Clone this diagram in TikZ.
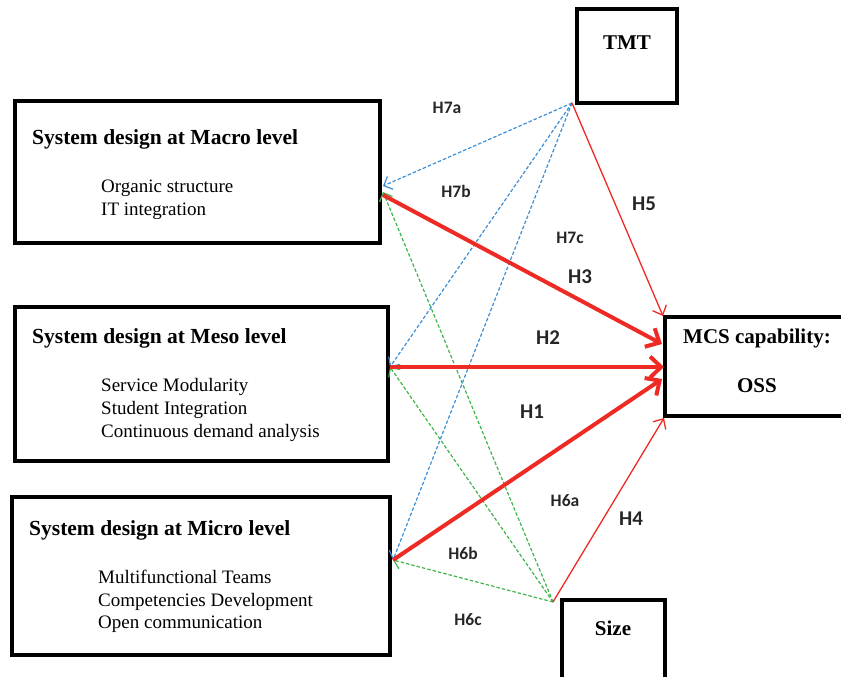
\documentclass[tikz,border=0pt]{standalone}
\usepackage{fontspec}
\setmainfont{Liberation Serif}
\newfontfamily\labfont{Carlito}
\usetikzlibrary{arrows.meta}
\definecolor{cblue}{HTML}{3A8FD8}
\definecolor{cgreen}{HTML}{3DB54A}
\definecolor{cred}{HTML}{EE2A24}
\begin{document}
\begin{tikzpicture}[x=1pt,y=-1pt,
  box/.style={draw=black,line width=4pt,inner sep=0pt,rectangle},
  ttl/.style={anchor=base west,font=\fontsize{21.5}{21.5}\selectfont\bfseries,inner sep=0pt},
  itm/.style={anchor=base west,font=\fontsize{19}{19}\selectfont,inner sep=0pt},
  ctr/.style={anchor=base,font=\fontsize{21}{21}\selectfont\bfseries,inner sep=0pt},
  slab/.style={font=\labfont\fontsize{17.5}{17.5}\selectfont\bfseries,text=black!85,inner sep=0pt},
  blab/.style={font=\labfont\fontsize{21}{21}\selectfont\bfseries,text=black!85,inner sep=0pt},
  bluearr/.style={draw=cblue,line width=1.2pt,dash pattern=on 3.5pt off 2pt,-{Straight Barb[length=7pt,width=14pt,line width=1.2pt]}},
  greenarr/.style={draw=cgreen,line width=1.2pt,dash pattern=on 3.5pt off 2pt,-{Straight Barb[length=7pt,width=14pt,line width=1.2pt]}},
  thinred/.style={draw=cred,line width=1.3pt,-{Straight Barb[length=8pt,width=15pt,line width=1.3pt]}},
  thickred/.style={draw=cred,line width=4pt,-{Straight Barb[length=11pt,width=21pt,line width=4pt]}}]
\useasboundingbox (0,0) rectangle (841,677);
\clip (0,0) rectangle (841,677);
% boxes
\node[box,minimum width=365pt,minimum height=142pt] (macro) at (197.5,172) {};
\node[box,minimum width=373pt,minimum height=154pt] (meso) at (201.5,384) {};
\node[box,minimum width=378pt,minimum height=158pt] (micro) at (201,576) {};
\node[box,minimum width=100pt,minimum height=94pt] (tmt) at (627,56) {};
\node[box,minimum width=190pt,minimum height=99pt] (mcs) at (760,366.5) {};
\node[box,minimum width=103pt,minimum height=90pt] (size) at (613.5,645) {};
% texts
\node[ttl] (t1) at (32,144) {System design at Macro level};
\node[itm] (i1a) at (101,192) {Organic structure};
\node[itm] (i1b) at (101,215) {IT integration};
\node[ttl] (t2) at (32,343) {System design at Meso level};
\node[itm] (i2a) at (101,391) {Service Modularity};
\node[itm] (i2b) at (101,414) {Student Integration};
\node[itm] (i2c) at (101,437) {Continuous demand analysis};
\node[ttl] (t3) at (29,535) {System design at Micro level};
\node[itm] (i3a) at (98,583) {Multifunctional Teams};
\node[itm] (i3b) at (98,606) {Competencies Development};
\node[itm] (i3c) at (98,628) {Open communication};
\node[ctr] (tt) at (627,50) {TMT};
\node[ctr] (mt1) at (757,343) {MCS capability:};
\node[ctr] (mt2) at (757,392) {OSS};
\node[ctr] (st) at (613,635) {Size};
% connector points
\coordinate (ts) at (572,103);
\coordinate (ss) at (553,602);
\coordinate (maA) at (383,186);
\coordinate (maR) at (383,195);
\coordinate (maG) at (383,192);
\coordinate (me) at (390,367);
\coordinate (mi) at (393,560);
\coordinate (c5) at (663,316);
\coordinate (c3) at (662,344);
\coordinate (c2) at (664,367);
\coordinate (c1) at (662,379);
\coordinate (c4) at (664,418);
% dashed
\draw[greenarr] (ss) -- (maG);
\draw[greenarr] (ss) -- (me);
\draw[greenarr] (ss) -- (mi);
\draw[bluearr] (ts) -- (maA);
\draw[bluearr] (ts) -- (me);
\draw[bluearr] (ts) -- (mi);
% red
\draw[thinred] (ts) -- (c5);
\draw[thinred] (ss) -- (c4);
\draw[thickred] (maR) -- (c3);
\draw[thickred] (me) -- (c2);
\draw[thickred] (mi) -- (c1);
% labels
\node[slab] (h7a) at (447,108) {H7a};
\node[slab] (h7b) at (456,191) {H7b};
\node[slab] (h7c) at (570,238) {H7c};
\node[blab] (h5) at (644,204) {H5};
\node[blab] (h3) at (580,277) {H3};
\node[blab] (h2) at (548,338) {H2};
\node[blab] (h1) at (532,412) {H1};
\node[slab] (h6a) at (565,501) {H6a};
\node[blab] (h4) at (631,519) {H4};
\node[slab] (h6b) at (463,553) {H6b};
\node[slab] (h6c) at (468,620) {H6c};
\end{tikzpicture}
\end{document}
